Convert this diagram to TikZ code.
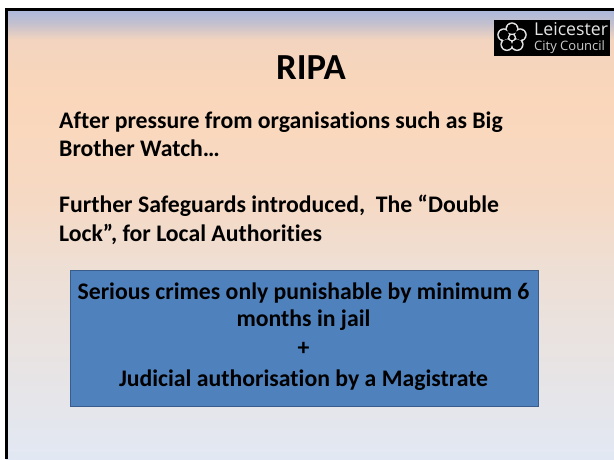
\documentclass[tikz,border=0pt]{standalone}
\usepackage{fontspec}
\setmainfont{Carlito}[Ligatures=NoCommon]
\newfontfamily\logofont{Open Sans}
\definecolor{bgA}{RGB}{226,232,243}
\definecolor{bgB}{RGB}{238,223,213}
\definecolor{bgC}{RGB}{246,217,196}
\definecolor{bgD}{RGB}{250,215,187}
\definecolor{bgE}{RGB}{243,212,190}
\definecolor{bgF}{RGB}{195,192,206}
\definecolor{bgG}{RGB}{170,185,221}
\definecolor{boxfill}{RGB}{79,129,189}
\definecolor{boxline}{RGB}{56,93,138}
\pgfdeclareverticalshading{slidebg}{100bp}{
  color(0bp)=(bgA);
  color(25bp)=(bgA);
  color(46bp)=(bgB);
  color(53.8bp)=(bgC);
  color(64.9bp)=(bgD);
  color(71.6bp)=(bgE);
  color(73.4bp)=(bgF);
  color(75bp)=(bgG);
  color(100bp)=(bgG)}
\tikzset{
  x=1pt,y=-1pt,
  bodytext/.style={anchor=base west,font=\fontsize{23.75}{28}\selectfont\bfseries,inner sep=0pt},
  boxtext/.style={anchor=base,font=\fontsize{23.75}{28}\selectfont\bfseries,inner sep=0pt},
}
\begin{document}
\begin{tikzpicture}
\useasboundingbox (0,0) rectangle (614,459);
\fill[white] (0,0) rectangle (614,459);
\path[shading=slidebg] (6,9) rectangle (614,459);
\draw[line width=2.6pt,black] (6.3,459) -- (6.3,9.3) -- (614,9.3);
% logo
\fill[black] (494,20) rectangle (610,56);
\foreach \a in {90,162,234,306,18}{
  \fill[white!90!black] (512,37.5) ++(\a:8.6pt) circle (6.6pt);
}
\foreach \a in {90,162,234,306,18}{
  \fill[black] (512,37.5) ++(\a:8.6pt) circle (5.2pt);
}
\draw[white!90!black,line width=1.2pt,fill=black] (512,37.5) circle (3.4pt);
\node[anchor=base west,inner sep=0pt,text=white!90!black,font=\logofont\fontsize{17.7}{18}\selectfont] (leicester) at (534,35) {Leicester};
\node[anchor=base west,inner sep=0pt,text=white!80!black,font=\logofont\fontsize{13}{14}\selectfont] (council) at (534,50) {City Council};
% title
\node[anchor=base,inner sep=0pt,font=\fontsize{36.7}{40}\selectfont\bfseries] (title) at (311,79) {RIPA};
% body
\node[bodytext] (l1) at (59,128) {After pressure from organisations such as Big};
\node[bodytext] (l2) at (59,156) {Brother Watch…};
\node[bodytext] (l3) at (59,212) {Further Safeguards introduced,\ \ The “Double};
\node[bodytext] (l4) at (59,241) {Lock”, for Local Authorities};
% box
\draw[fill=boxfill,draw=boxline,line width=1pt] (70,270.5) rectangle (538,406);
\node[boxtext] (b1) at (303.5,299) {Serious crimes only punishable by minimum 6};
\node[boxtext] (b2) at (303.5,326) {months in jail};
\node[boxtext] (b3) at (303.5,355) {+};
\node[boxtext] (b4) at (303.5,386) {Judicial authorisation by a Magistrate};
\end{tikzpicture}
\end{document}
